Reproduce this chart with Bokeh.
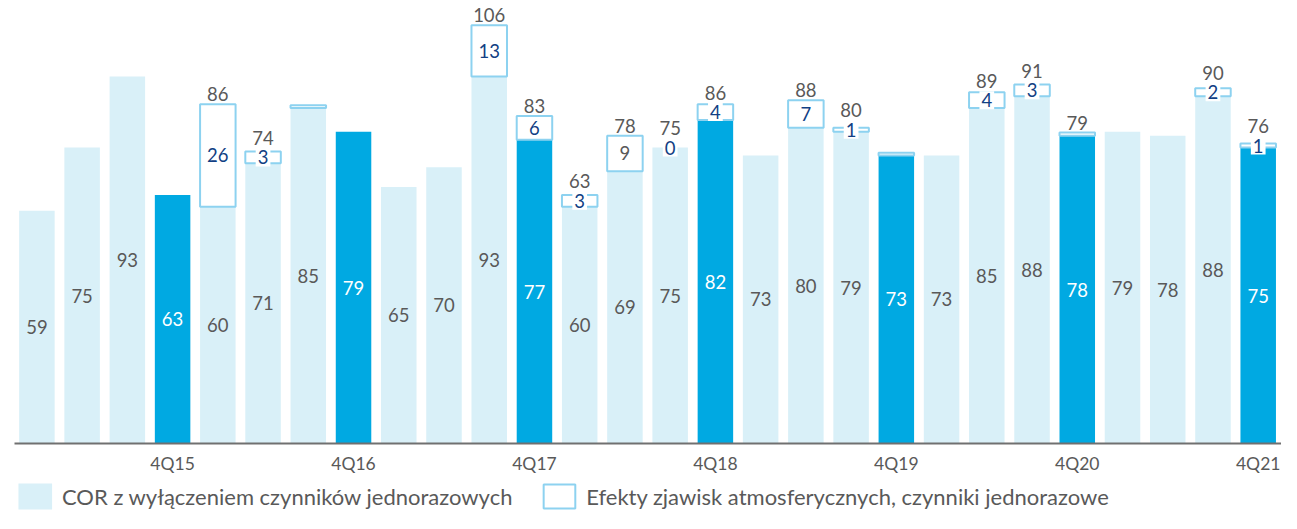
from bokeh.plotting import figure
from bokeh.layouts import column
from bokeh.models import ColumnDataSource, FixedTicker
from bokeh.embed import file_html
from bokeh.resources import INLINE
from bokeh.core.properties import value

quarters = ["1Q15", "2Q15", "3Q15", "4Q15", "1Q16", "2Q16", "3Q16", "4Q16",
            "1Q17", "2Q17", "3Q17", "4Q17", "1Q18", "2Q18", "3Q18", "4Q18",
            "1Q19", "2Q19", "3Q19", "4Q19", "1Q20", "2Q20", "3Q20", "4Q20",
            "1Q21", "2Q21", "3Q21", "4Q21"]
cor = [59, 75, 93, 63, 60, 71, 85, 79, 65, 70, 93, 77, 60, 69, 75, 82,
       73, 80, 79, 73, 73, 85, 88, 78, 79, 78, 88, 75]
efekty = [None, None, None, None, 26, 3, 0.7, None, None, None, 13, 6, 3, 9, 0, 4,
          None, 7, 1, 0.7, None, 4, 3, 0.8, None, None, 2, 1]
efekty_labels = ["", "", "", "", "26", "3", "", "", "", "", "13", "6", "3", "9", "0", "4",
                 "", "7", "1", "", "", "4", "3", "", "", "", "2", "1"]
total_labels = ["", "", "", "", "86", "74", "", "", "", "", "106", "83", "63", "78", "75", "86",
                "", "88", "80", "", "", "89", "91", "79", "", "", "90", "76"]
legend_labels = ["COR z wyłączeniem czynników jednorazowych",
                 "Efekty zjawisk atmosferycznych, czynniki jednorazowe"]

LIGHT = "#d9f0f8"
DARK = "#00a9e2"
OUTLINE = "#8dd2f0"
NAVY = "#123f84"
GRAY = "#595959"
FONT = "Lato"
BW = 0.785
PX_PER_UNIT = 3.946

idx = list(range(len(quarters)))
is_q4 = [q.startswith("4Q") for q in quarters]

light_src = ColumnDataSource(dict(x=[i for i in idx if not is_q4[i]],
                                  top=[cor[i] for i in idx if not is_q4[i]]))
dark_src = ColumnDataSource(dict(x=[i for i in idx if is_q4[i]],
                                 top=[cor[i] for i in idx if is_q4[i]]))

box_i = [i for i in idx if efekty[i] is not None and efekty[i] > 0]
box_src = ColumnDataSource(dict(x=box_i,
                                bottom=[cor[i] for i in box_i],
                                top=[cor[i] + efekty[i] for i in box_i]))

base_lbl_src = ColumnDataSource(dict(
    x=idx, y=[c / 2 for c in cor], text=[str(c) for c in cor],
    color=["white" if q else GRAY for q in is_q4]))

eff_i = [i for i in idx if efekty_labels[i] != ""]
eff_lbl_src = ColumnDataSource(dict(
    x=eff_i, y=[cor[i] + efekty[i] / 2 for i in eff_i],
    text=[efekty_labels[i] for i in eff_i],
    color=[GRAY if quarters[i] == "2Q18" else NAVY for i in eff_i]))

inner_half = 9.5 / PX_PER_UNIT
tot_i = [i for i in idx if total_labels[i] != ""]
tot_y = []
for i in tot_i:
    e = efekty[i] or 0
    top = cor[i] + e
    if efekty_labels[i] != "":
        top = max(top, cor[i] + e / 2 + inner_half)
    tot_y.append(top)
tot_lbl_src = ColumnDataSource(dict(x=tot_i, y=tot_y, text=[total_labels[i] for i in tot_i]))

# page has an 8px margin: figure spans page x 8..1289, y 8..521
p = figure(width=1281, height=476, output_backend="svg", toolbar_location=None,
           x_range=(-0.495, 27.515), y_range=(0, 112.27),
           min_border_left=14, min_border_right=0, min_border_top=0, min_border_bottom=33)
p.outline_line_color = None
p.grid.grid_line_color = None
p.yaxis.visible = False

p.vbar(x="x", top="top", width=BW, source=light_src, fill_color=LIGHT, line_color=None)
p.vbar(x="x", top="top", width=BW, source=dark_src, fill_color=DARK, line_color=None)
p.vbar(x="x", bottom="bottom", top="top", width=BW, source=box_src,
       fill_color="white", line_color=OUTLINE, line_width=2)

p.text(x="x", y="y", text="text", source=base_lbl_src, text_color="color",
       text_align="center", text_baseline="middle", text_font=value(FONT),
       text_font_size="18.5px")
p.text(x="x", y="y", text="text", source=eff_lbl_src, text_color="color",
       text_align="center", text_baseline="middle", text_font=value(FONT),
       text_font_size="18.5px", background_fill_color="white", padding=2)
p.text(x="x", y="y", text="text", source=tot_lbl_src, text_color=GRAY,
       text_align="center", text_baseline="alphabetic", y_offset=-10,
       text_font=value(FONT), text_font_size="18.5px")

ax = p.xaxis[0]
ax.ticker = FixedTicker(ticks=[i for i in idx if is_q4[i]])
ax.major_label_overrides = {i: quarters[i] for i in idx if is_q4[i]}
ax.major_tick_line_color = None
ax.minor_tick_line_color = None
ax.axis_line_color = "#707070"
ax.axis_line_width = 2
ax.major_label_text_font = FONT
ax.major_label_text_font_size = "17.5px"
ax.major_label_text_color = GRAY
ax.major_label_standoff = 3

# legend strip, x in page pixels, y in pixels above the strip bottom
leg = figure(width=1281, height=37, output_backend="svg", toolbar_location=None,
             x_range=(8, 1289), y_range=(0, 37),
             min_border_left=0, min_border_right=0, min_border_top=0, min_border_bottom=0)
leg.axis.visible = False
leg.grid.grid_line_color = None
leg.outline_line_color = None
leg.quad(left=[12], right=[46], bottom=[4], top=[30], fill_color=LIGHT, line_color=None)
leg.quad(left=[543], right=[575], bottom=[5], top=[29], fill_color="white",
         line_color=OUTLINE, line_width=2)
leg.text(x=[56, 586], y=[17, 17], text=legend_labels, text_color=GRAY,
         text_align="left", text_baseline="middle", text_font=value(FONT),
         text_font_size="22px")

layout = column(p, leg, spacing=0)
open("out.html", "w").write(file_html(layout, INLINE))
